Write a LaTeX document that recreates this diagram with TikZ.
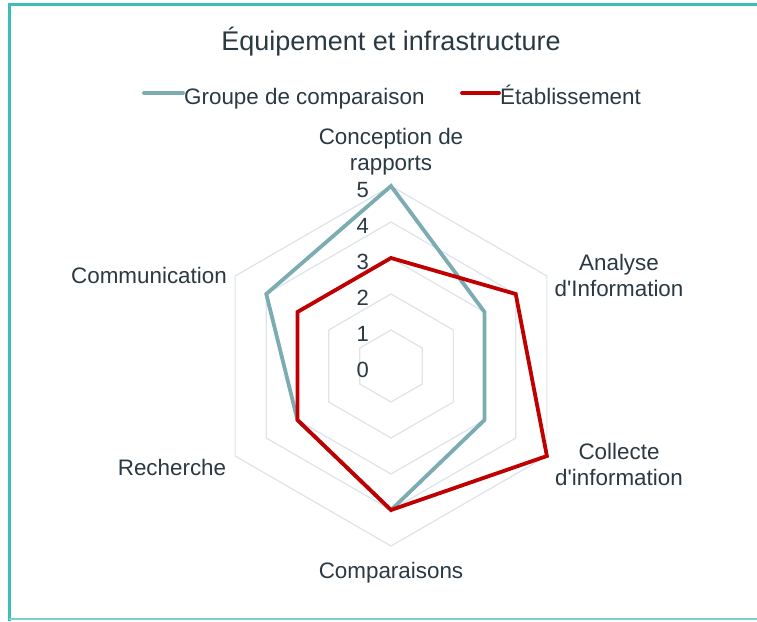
\documentclass[tikz,border=0pt]{standalone}
\usepackage{fontspec}
\setmainfont{Liberation Sans}[Ligatures=TeXOff]
\definecolor{bordercol}{HTML}{3DBDBA}
\definecolor{gridcol}{HTML}{DDE4EA}
\definecolor{txtcol}{HTML}{2B3943}
\definecolor{tealcol}{HTML}{7BACB2}
\definecolor{redcol}{HTML}{C00000}
\tikzset{
  lbl/.style={text=txtcol, font=\fontsize{22.4}{26}\selectfont, align=center, inner sep=0pt},
  tick/.style={text=txtcol, font=\fontsize{22}{26}\selectfont, inner sep=0pt, anchor=east},
  gridline/.style={draw=gridcol, line width=1.2pt},
  series/.style={line width=3.8pt, line join=miter},
}
\begin{document}
\begin{tikzpicture}[x=1pt,y=-1pt]
\useasboundingbox (0,0) rectangle (757,621);
\fill[white] (0,0) rectangle (757,621);
% frame
\draw[bordercol, line width=3pt] (9,621) -- (9,4) -- (757,4);
\draw[bordercol!70, line width=2pt] (9,619) -- (757,619);
% title and legend
\node[lbl, font=\fontsize{27}{30}\selectfont] (title) at (391,42) {Équipement et infrastructure};
\coordinate (lg1a) at (144,93);
\coordinate (lg1b) at (183,93);
\draw[tealcol, line width=3.8pt, line cap=round] (lg1a) -- (lg1b);
\node[lbl, anchor=base west] (lgt1) at (184,104) {Groupe de comparaison};
\coordinate (lg2a) at (462,93);
\coordinate (lg2b) at (499,93);
\draw[redcol, line width=3.8pt, line cap=round] (lg2a) -- (lg2b);
\node[lbl, anchor=base west] (lgt2) at (500,104) {Établissement};
% radar
\begin{scope}[shift={(391,366)}, y=1pt]
  \foreach \r in {1,...,5}{
    \draw[gridline] (90:\r*36) -- (30:\r*36) -- (-30:\r*36) -- (-90:\r*36) -- (-150:\r*36) -- (150:\r*36) -- cycle;
  }
  \foreach \v in {0,...,5}{
    \node[tick] (t\v) at (-22,\v*36-4) {\v};
  }
  % group
  \coordinate (g1) at (90:5*36);
  \coordinate (g2) at (30:3*36);
  \coordinate (g3) at (-30:3*36);
  \coordinate (g4) at (-90:4*36);
  \coordinate (g5) at (-150:3*36);
  \coordinate (g6) at (150:4*36);
  \draw[series, tealcol] (g1) -- (g2) -- (g3) -- (g4) -- (g5) -- (g6) -- cycle;
  % etablissement
  \coordinate (e1) at (90:3*36);
  \coordinate (e2) at (30:4*36);
  \coordinate (e3) at (-30:5*36);
  \coordinate (e4) at (-90:4*36);
  \coordinate (e5) at (-150:3*36);
  \coordinate (e6) at (150:3*36);
  \draw[series, redcol] (e1) -- (e2) -- (e3) -- (e4) -- (e5) -- (e6) -- cycle;
\end{scope}
% axis labels
\node[lbl] (a1) at (391,152) {Conception de\\rapports};
\node[lbl] (a2) at (619,275) {Analyse\\d'Information};
\node[lbl] (a3) at (619,464) {Collecte\\d'information};
\node[lbl] (a4) at (391,573) {Comparaisons};
\node[lbl] (a5) at (172,467) {Recherche};
\node[lbl] (a6) at (149,275) {Communication};
\end{tikzpicture}
\end{document}
